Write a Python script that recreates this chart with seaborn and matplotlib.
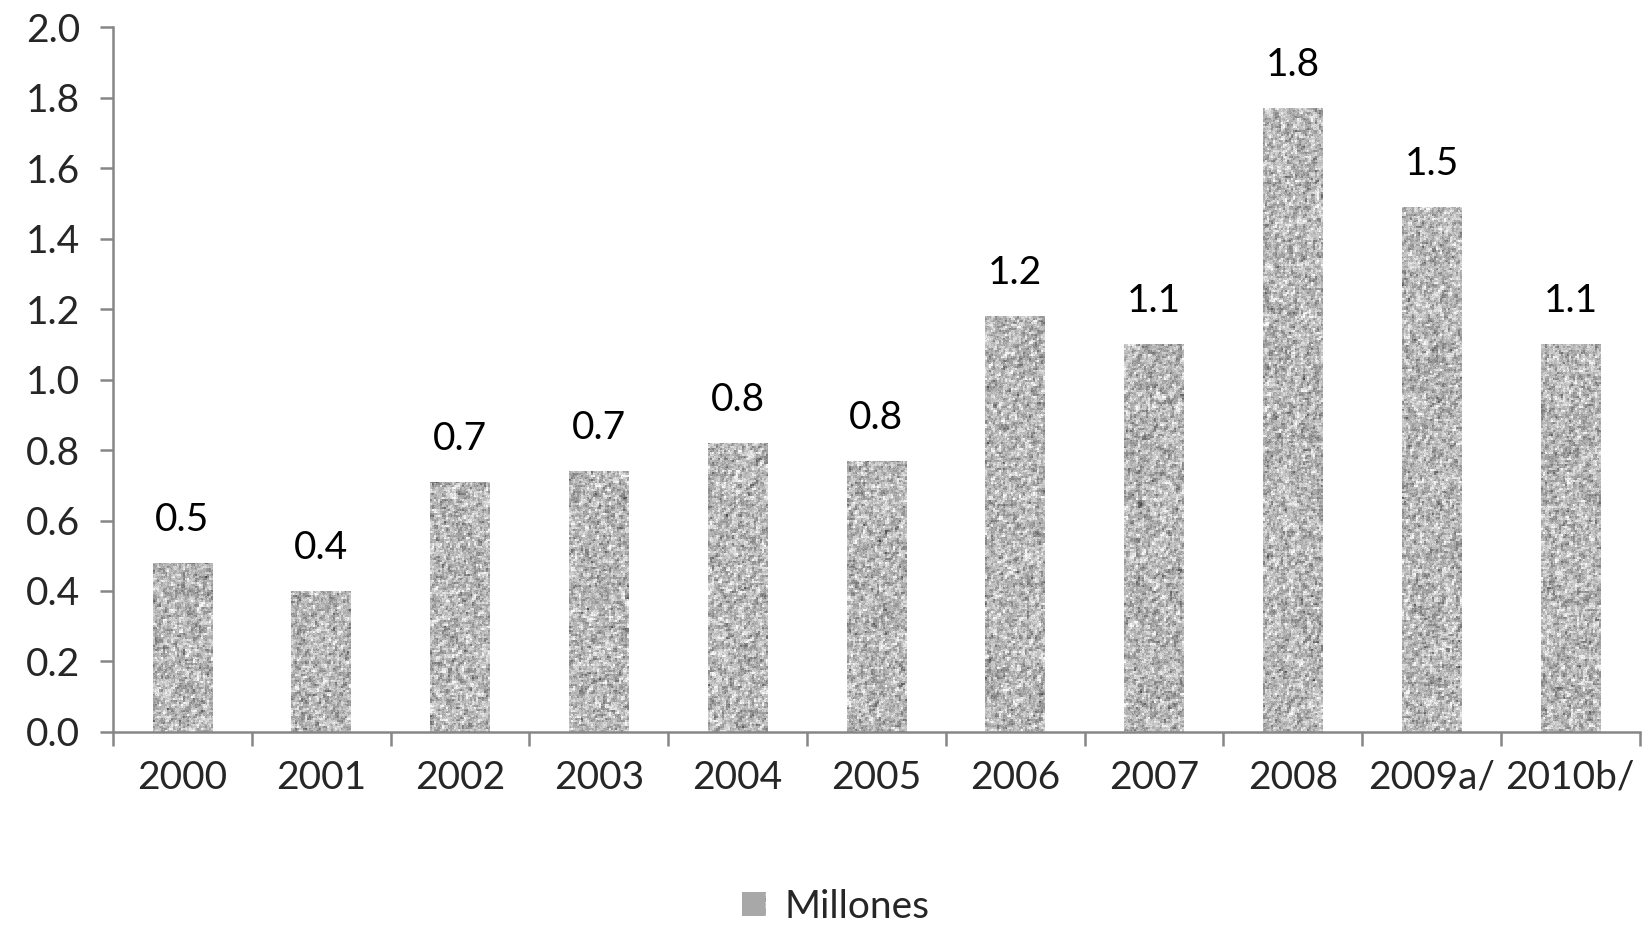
import numpy as np
import pandas as pd
import matplotlib
matplotlib.use("Agg")
import matplotlib.pyplot as plt
import seaborn as sns
from matplotlib.patches import Patch
from matplotlib.ticker import FixedLocator, FormatStrFormatter

years = ["2000", "2001", "2002", "2003", "2004", "2005", "2006", "2007", "2008", "2009a/", "2010b/"]
values = [0.48, 0.40, 0.71, 0.74, 0.82, 0.77, 1.18, 1.10, 1.77, 1.49, 1.10]
labels = ["0.5", "0.4", "0.7", "0.7", "0.8", "0.8", "1.2", "1.1", "1.8", "1.5", "1.1"]
series_name = "Millones"

sns.set_theme(style="white")
plt.rcParams["font.family"] = ["Lato", "DejaVu Sans"]
FS = 28

df = pd.DataFrame({"year": years, "value": values})

fig = plt.figure(figsize=(16.48, 9.32), dpi=100)
ax = fig.add_axes([0.0686, 0.2146, 0.9264, 0.7564])

sns.barplot(data=df, x="year", y="value", color="#a8a8a8", width=0.43, ax=ax,
            saturation=1, edgecolor="none")

# granite-like texture (decorative only, not data)
rng = np.random.default_rng(7)

def make_texture(h, w):
    hh, ww = h // 2 + 2, w // 2 + 2
    t = rng.normal(0.72, 0.17, size=(hh, ww))
    t = (2 * t + np.roll(t, 1, 0) + np.roll(t, 1, 1)) / 4.0
    t = np.repeat(np.repeat(t, 2, axis=0), 2, axis=1)[:h, :w]
    t = t + rng.normal(0, 0.04, size=t.shape)
    return np.clip(t, 0.25, 0.97)

for p in list(ax.patches):
    x0, w, h = p.get_x(), p.get_width(), p.get_height()
    tex = make_texture(max(int(h * 352), 4), 60)
    im = ax.imshow(tex, extent=[x0, x0 + w, 0, h], aspect="auto", cmap="gray",
                   vmin=0, vmax=1, zorder=p.get_zorder() + 0.1, interpolation="nearest")
    im.set_clip_path(p)

ax.set_xlim(-0.5, len(years) - 0.5)
ax.set_ylim(0, 2.0)
ax.set_aspect("auto")

# data labels
for i, (v, lab) in enumerate(zip(values, labels)):
    ax.annotate(lab, (i, v), xytext=(0, 31), textcoords="offset points",
                ha="center", va="center", fontsize=FS, color="black")

# axes styling
spine_c = "#868686"
for s in ["top", "right"]:
    ax.spines[s].set_visible(False)
for s in ["left", "bottom"]:
    ax.spines[s].set_color(spine_c)
    ax.spines[s].set_linewidth(1.8)

ax.set_yticks(np.arange(0, 2.01, 0.2))
ax.yaxis.set_major_formatter(FormatStrFormatter("%.1f"))
ax.tick_params(axis="y", which="major", direction="out", length=9.5, width=1.8,
               color=spine_c, labelsize=FS, pad=14, left=True)
ax.set_xticks(range(len(years)))
ax.set_xticklabels(years)
ax.xaxis.set_minor_locator(FixedLocator(np.arange(-0.5, len(years), 1.0)))
ax.tick_params(axis="x", which="major", length=0, labelsize=FS, pad=20)
ax.tick_params(axis="x", which="minor", direction="out", length=10, width=1.8,
               color=spine_c, bottom=True)
ax.set_xlabel("")
ax.set_ylabel("")
ax.grid(False)

leg = fig.legend(handles=[Patch(facecolor="#a8a8a8", edgecolor="none", label=series_name)],
                 loc="center", bbox_to_anchor=(0.507, 0.027), frameon=False,
                 fontsize=FS, handlelength=0.6, handleheight=0.6, handletextpad=0.5,
                 borderpad=0.2)

fig.canvas.draw()
renderer = fig.canvas.get_renderer()
hb = leg.legend_handles[0].get_window_extent(renderer)
W, H = fig.bbox.width, fig.bbox.height
lax = fig.add_axes([hb.x0 / W, hb.y0 / H, hb.width / W, hb.height / H])
lax.imshow(make_texture(22, 22), cmap="gray", vmin=0, vmax=1, aspect="auto",
           interpolation="nearest")
lax.axis("off")

fig.savefig("out.png", dpi=100)
